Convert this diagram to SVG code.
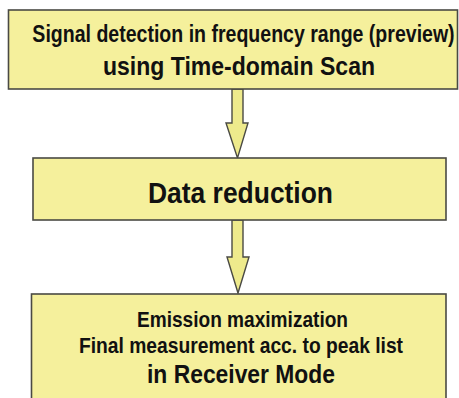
<svg xmlns="http://www.w3.org/2000/svg" width="459" height="398" viewBox="0 0 459 398">
<style>
.box{fill:#f5f09c;stroke:#4a4a44;stroke-width:1.6}
.arrow{fill:#eeea8c;stroke:#4a4a44;stroke-width:1.4;stroke-linejoin:miter}
text{font-family:"Liberation Sans",Arial,sans-serif;font-weight:bold;fill:#111;text-anchor:middle}
</style>
<rect width="459" height="398" fill="#ffffff"/>
<g id="connectors">
<polygon class="arrow" points="232,89 243,89 243,123 248,123 237.5,158 226,123 232,123"/>
<polygon class="arrow" points="232,220 243,220 243,257 249,257 238,293 227,257 232,257"/>
</g>
<g id="node-scan">
<rect class="box" x="8.5" y="10" width="449" height="79"/>
<text transform="translate(243.5,42) scale(0.85,1)" font-size="23">Signal detection in frequency range (preview)</text>
<text x="239" y="75" font-size="25" textLength="272" lengthAdjust="spacingAndGlyphs">using Time-domain Scan</text>
</g>
<g id="node-reduction">
<rect class="box" x="33" y="158" width="413" height="62"/>
<text x="240.5" y="203" font-size="30" textLength="185" lengthAdjust="spacingAndGlyphs">Data reduction</text>
</g>
<g id="node-final">
<rect class="box" x="31.5" y="294" width="414.5" height="110"/>
<text x="242.5" y="327" font-size="22" textLength="211" lengthAdjust="spacingAndGlyphs">Emission maximization</text>
<text x="241" y="353" font-size="22" textLength="324" lengthAdjust="spacingAndGlyphs">Final measurement acc. to peak list</text>
<text x="241" y="383" font-size="26" textLength="188" lengthAdjust="spacingAndGlyphs">in Receiver Mode</text>
</g>
</svg>
